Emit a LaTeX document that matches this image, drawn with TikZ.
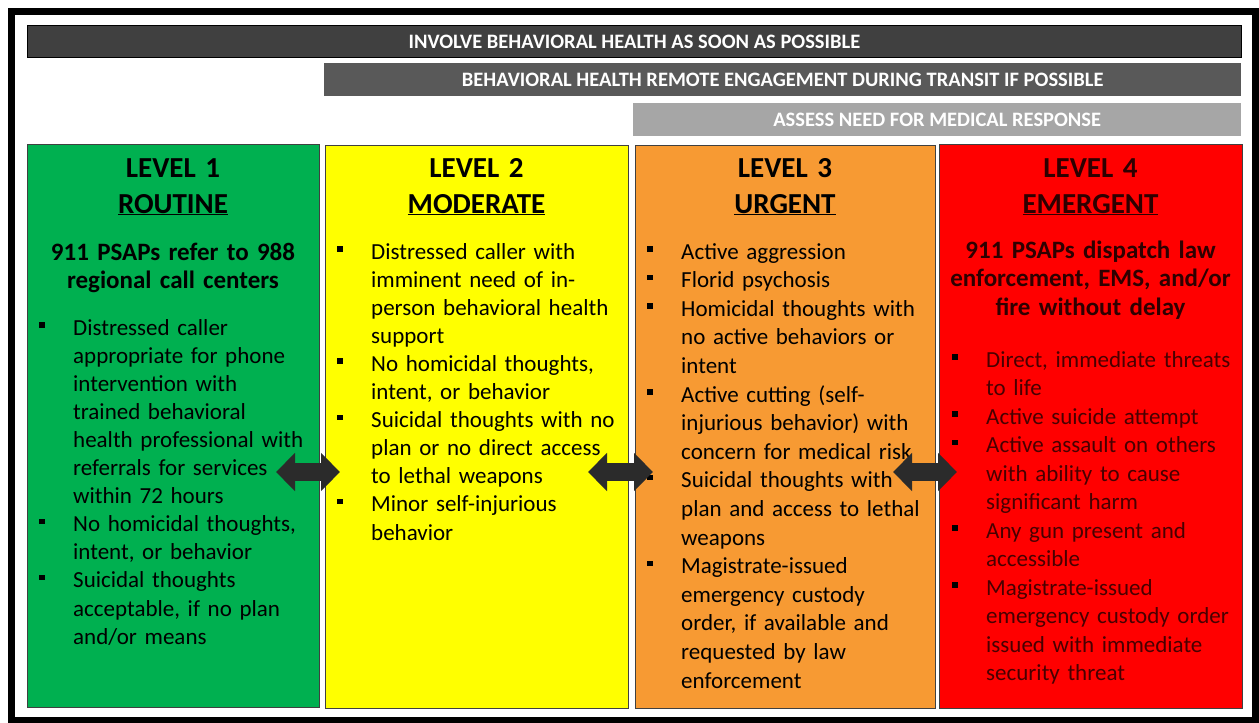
\documentclass[tikz,border=0pt]{standalone}
\usepackage{fontspec}
\setmainfont{Carlito}
\usepackage{tikz}
\usetikzlibrary{arrows.meta}

\definecolor{barone}{HTML}{404040}
\definecolor{bartwo}{HTML}{595959}
\definecolor{barthree}{HTML}{A6A6A6}
\definecolor{routine}{HTML}{00B050}
\definecolor{moderate}{HTML}{FFFF00}
\definecolor{urgent}{HTML}{F79A33}
\definecolor{emergent}{HTML}{FF0000}
\definecolor{emhead}{HTML}{2E0000}
\definecolor{embody}{HTML}{480000}
\definecolor{arrowgray}{HTML}{2B2B2B}

\newlength{\bulind}
\setlength{\bulind}{34pt}
\newcommand{\bulhead}{\noindent\hangindent=\bulind\hangafter=1%
  \makebox[\bulind][l]{\textcolor{black}{\rule[7.5pt]{5.5pt}{5.5pt}}}}
\newcommand{\bul}{\par\bulhead}

\tikzset{
  bar/.style={anchor=north west, inner sep=0pt, text=white,
    font=\fontsize{20.5}{24}\selectfont\bfseries},
  level/.style={anchor=north west, draw=barone, line width=0.8pt, inner sep=0pt},
  head/.style={anchor=base, text width=#1, align=center, inner sep=0pt,
    font=\fontsize{29}{36}\selectfont\bfseries},
  sub/.style={anchor=base, text width=#1, align=center, inner sep=0pt,
    font=\fontsize{25}{28.5}\selectfont\bfseries},
  items/.style 2 args={anchor=base west, text width=#1, inner sep=0pt,
    font=\fontsize{23}{#2}\selectfont},
  both/.style={line width=18pt, draw=arrowgray,
    {Triangle[length=19pt,width=37pt]}-{Triangle[length=19pt,width=37pt]}}
}

\begin{document}
\begin{tikzpicture}[x=1pt,y=-1pt]
  \useasboundingbox (0,0) rectangle (1259,723);
  \draw[line width=7pt] (11,11.5) rectangle (1255.5,720);

  % bars across the top
  \node[bar, fill=barone, draw=black, line width=0.8pt, minimum width=1214, minimum height=32] (soon) at (27,25) {INVOLVE BEHAVIORAL HEALTH AS SOON AS POSSIBLE};
  \node[bar, fill=bartwo, minimum width=917, minimum height=33] (transit) at (324,63) {BEHAVIORAL HEALTH REMOTE ENGAGEMENT DURING TRANSIT IF POSSIBLE};
  \node[bar, fill=barthree, minimum width=608, minimum height=33] (medical) at (633,103) {ASSESS NEED FOR MEDICAL RESPONSE};

  % the four levels
  \node[level, fill=routine,  minimum width=292, minimum height=563] (lvl1) at (27,144) {};
  \node[level, fill=moderate, minimum width=303, minimum height=563] (lvl2) at (325,145) {};
  \node[level, fill=urgent,   minimum width=300, minimum height=563] (lvl3) at (635,145) {};
  \node[level, fill=emergent, minimum width=303, minimum height=564] (lvl4) at (939,144) {};

  \node[head=280] (head1) at (173,177) {LEVEL 1\\\underline{ROUTINE}};
  \node[head=290] (head2) at (476.5,177) {LEVEL 2\\\underline{MODERATE}};
  \node[head=290] (head3) at (785,177) {LEVEL 3\\\underline{URGENT}};
  \node[head=290, text=emhead] (head4) at (1090.5,177) {LEVEL 4\\\underline{EMERGENT}};

  \node[sub=280] (sub1) at (173,260) {911 PSAPs refer to 988\\regional call centers};
  \node[sub=295, text=emhead] (sub4) at (1090.5,258) {911 PSAPs dispatch law\\enforcement, EMS, and/or\\fire without delay};

  \node[items={278}{28.1}] (list1) at (39,335) {%
    \bulhead Distressed caller\newline appropriate for phone\newline intervention with\newline trained behavioral\newline health professional with\newline referrals for services\newline within 72 hours
    \bul No homicidal thoughts,\newline intent, or behavior
    \bul Suicidal thoughts\newline acceptable, if no plan\newline and/or means\par};
  \node[items={289}{28.1}] (list2) at (337,259) {%
    \bulhead Distressed caller with\newline imminent need of in-\newline person behavioral health\newline support
    \bul No homicidal thoughts,\newline intent, or behavior
    \bul Suicidal thoughts with no\newline plan or no direct access\newline to lethal weapons
    \bul Minor self-injurious\newline behavior\par};
  \node[items={286}{28.6}] (list3) at (647,259) {%
    \bulhead Active aggression
    \bul Florid psychosis
    \bul Homicidal thoughts with\newline no active behaviors or\newline intent
    \bul Active cutting (self-\newline injurious behavior) with\newline concern for medical risk
    \bul Suicidal thoughts with\newline plan and access to lethal\newline weapons
    \bul Magistrate-issued\newline emergency custody\newline order, if available and\newline requested by law\newline enforcement\par};
  \node[items={288}{28.5}, text=embody] (list4) at (952,367) {%
    \bulhead Direct, immediate threats\newline to life
    \bul Active suicide attempt
    \bul Active assault on others\newline with ability to cause\newline significant harm
    \bul Any gun present and\newline accessible
    \bul Magistrate-issued\newline emergency custody order\newline issued with immediate\newline security threat\par};

  % moving between levels
  \coordinate (step12w) at (276,472);
  \coordinate (step12e) at (340,472);
  \coordinate (step23w) at (588,472);
  \coordinate (step23e) at (653,472);
  \coordinate (step34w) at (893,472);
  \coordinate (step34e) at (957,472);
  \draw[both] (step12w) -- (step12e);
  \draw[both] (step23w) -- (step23e);
  \draw[both] (step34w) -- (step34e);
\end{tikzpicture}
\end{document}
